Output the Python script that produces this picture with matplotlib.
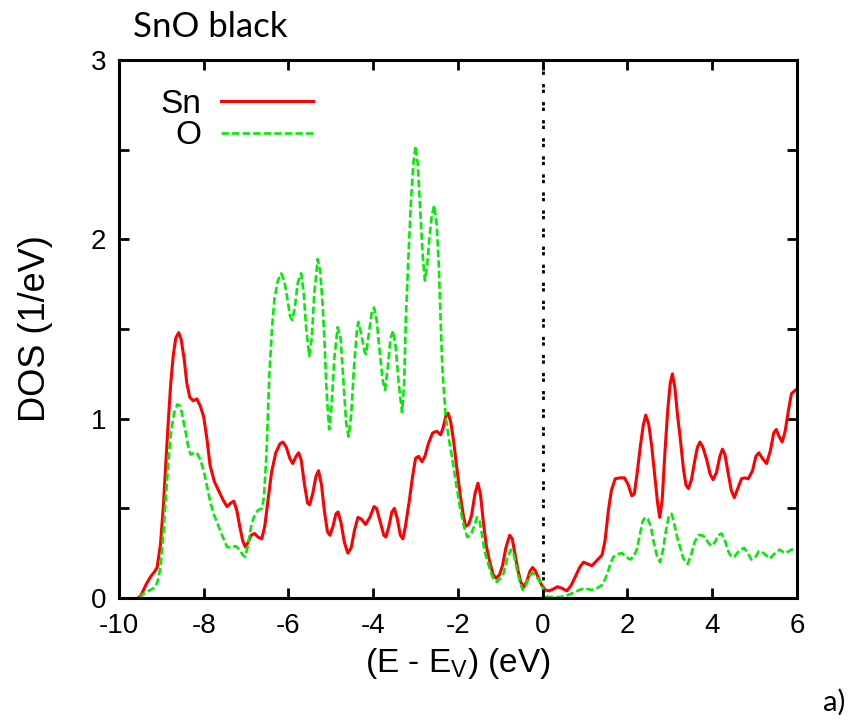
import numpy as np
import matplotlib
matplotlib.use("Agg")
import matplotlib.pyplot as plt

# DOS (energy in eV, DOS in 1/eV)
sn_e = [-9.55, -9.49, -9.35, -9.25, -9.15, -9.10, -9.02, -8.95, -8.90, -8.84, -8.78, -8.72,
        -8.66, -8.59, -8.53, -8.46, -8.40, -8.33, -8.25, -8.16, -8.08, -8.00, -7.92, -7.85,
        -7.75, -7.65, -7.55, -7.45, -7.36, -7.29, -7.22, -7.15, -7.08, -7.02, -6.95, -6.88,
        -6.80, -6.72, -6.63, -6.56, -6.48, -6.40, -6.30, -6.20, -6.13, -6.05, -5.97, -5.90,
        -5.82, -5.76, -5.70, -5.62, -5.55, -5.50, -5.43, -5.35, -5.29, -5.22, -5.15, -5.08,
        -5.02, -4.95, -4.88, -4.83, -4.76, -4.68, -4.60, -4.52, -4.44, -4.36, -4.28, -4.18,
        -4.08, -3.98, -3.92, -3.84, -3.75, -3.70, -3.63, -3.56, -3.50, -3.43, -3.36, -3.30,
        -3.24, -3.15, -3.07, -3.00, -2.93, -2.85, -2.78, -2.70, -2.60, -2.50, -2.41, -2.35,
        -2.28, -2.23, -2.17, -2.10, -2.03, -1.95, -1.88, -1.82, -1.75, -1.68, -1.60, -1.53,
        -1.47, -1.40, -1.33, -1.25, -1.17, -1.10, -1.02, -0.95, -0.87, -0.78, -0.72, -0.65,
        -0.58, -0.52, -0.45, -0.38, -0.30, -0.24, -0.17, -0.10, -0.02, 0.06, 0.15, 0.25,
        0.35, 0.45, 0.57, 0.67, 0.77, 0.87, 0.96, 1.06, 1.16, 1.28, 1.40, 1.47,
        1.55, 1.62, 1.71, 1.82, 1.93, 2.02, 2.10, 2.16, 2.23, 2.30, 2.37, 2.43,
        2.50, 2.57, 2.64, 2.71, 2.76, 2.82, 2.88, 2.95, 3.01, 3.06, 3.12, 3.18,
        3.24, 3.32, 3.38, 3.44, 3.51, 3.59, 3.65, 3.71, 3.78, 3.87, 3.95, 4.02,
        4.10, 4.18, 4.24, 4.30, 4.38, 4.45, 4.52, 4.60, 4.69, 4.76, 4.85, 4.95,
        5.03, 5.10, 5.18, 5.28, 5.37, 5.45, 5.51, 5.58, 5.65, 5.72, 5.80, 5.87, 5.97]
sn_dos = [0.00, 0.01, 0.08, 0.12, 0.15, 0.17, 0.30, 0.52, 0.73, 0.97, 1.19, 1.35,
          1.45, 1.48, 1.44, 1.33, 1.20, 1.12, 1.10, 1.11, 1.07, 1.01, 0.88, 0.74,
          0.65, 0.60, 0.55, 0.51, 0.53, 0.54, 0.49, 0.40, 0.32, 0.285, 0.31, 0.35,
          0.36, 0.34, 0.33, 0.40, 0.55, 0.70, 0.81, 0.86, 0.87, 0.84, 0.78, 0.75,
          0.79, 0.81, 0.77, 0.63, 0.53, 0.52, 0.58, 0.68, 0.71, 0.63, 0.48, 0.37,
          0.35, 0.40, 0.47, 0.48, 0.42, 0.31, 0.25, 0.28, 0.38, 0.45, 0.44, 0.41,
          0.45, 0.51, 0.50, 0.43, 0.35, 0.34, 0.40, 0.48, 0.50, 0.44, 0.35, 0.33,
          0.40, 0.54, 0.68, 0.78, 0.79, 0.76, 0.79, 0.86, 0.92, 0.93, 0.91, 0.95,
          1.02, 1.03, 0.98, 0.87, 0.73, 0.58, 0.47, 0.40, 0.41, 0.46, 0.58, 0.64,
          0.58, 0.42, 0.29, 0.20, 0.13, 0.11, 0.13, 0.18, 0.28, 0.35, 0.33, 0.24,
          0.15, 0.09, 0.06, 0.09, 0.15, 0.17, 0.15, 0.11, 0.07, 0.045, 0.04, 0.05,
          0.063, 0.055, 0.04, 0.07, 0.12, 0.17, 0.20, 0.19, 0.18, 0.21, 0.24, 0.32,
          0.49, 0.60, 0.665, 0.67, 0.67, 0.63, 0.57, 0.58, 0.70, 0.84, 0.96, 1.02,
          0.97, 0.85, 0.69, 0.53, 0.45, 0.55, 0.80, 1.05, 1.20, 1.25, 1.17, 1.02,
          0.90, 0.72, 0.63, 0.61, 0.66, 0.77, 0.84, 0.87, 0.84, 0.77, 0.69, 0.66,
          0.70, 0.79, 0.83, 0.80, 0.69, 0.60, 0.56, 0.61, 0.665, 0.67, 0.665, 0.71,
          0.79, 0.81, 0.78, 0.75, 0.82, 0.92, 0.94, 0.90, 0.87, 0.93, 1.05, 1.14, 1.16]

o_e = [-9.50, -9.45, -9.30, -9.14, -9.08, -9.02, -8.96, -8.90, -8.84, -8.78, -8.70, -8.62,
       -8.55, -8.49, -8.43, -8.37, -8.31, -8.22, -8.16, -8.08, -8.00, -7.92, -7.84, -7.75,
       -7.65, -7.55, -7.45, -7.35, -7.25, -7.15, -7.08, -7.02, -6.95, -6.88, -6.82, -6.72,
       -6.63, -6.58, -6.52, -6.45, -6.39, -6.33, -6.25, -6.17, -6.10, -6.02, -5.96, -5.91,
       -5.85, -5.78, -5.70, -5.64, -5.58, -5.51, -5.45, -5.39, -5.31, -5.25, -5.19, -5.15,
       -5.10, -5.04, -4.98, -4.92, -4.84, -4.77, -4.70, -4.64, -4.58, -4.52, -4.45, -4.38,
       -4.35, -4.28, -4.20, -4.17, -4.10, -4.03, -3.98, -3.92, -3.85, -3.78, -3.72, -3.66,
       -3.59, -3.53, -3.47, -3.40, -3.32, -3.27, -3.23, -3.17, -3.11, -3.05, -3.00, -2.95,
       -2.88, -2.83, -2.78, -2.73, -2.68, -2.62, -2.56, -2.50, -2.45, -2.41, -2.37, -2.29,
       -2.21, -2.13, -2.04, -1.94, -1.86, -1.78, -1.70, -1.62, -1.55, -1.50, -1.43, -1.37,
       -1.31, -1.22, -1.15, -1.08, -1.00, -0.92, -0.84, -0.75, -0.68, -0.60, -0.53, -0.47,
       -0.40, -0.32, -0.25, -0.18, -0.09, 0.02, 0.10, 0.25, 0.38, 0.55, 0.69, 0.82,
       0.96, 1.06, 1.16, 1.28, 1.40, 1.48, 1.55, 1.61, 1.67, 1.77, 1.87, 1.97,
       2.06, 2.14, 2.22, 2.30, 2.36, 2.42, 2.48, 2.55, 2.62, 2.70, 2.77, 2.84,
       2.91, 2.97, 3.04, 3.10, 3.17, 3.24, 3.32, 3.42, 3.50, 3.58, 3.67, 3.75,
       3.83, 3.90, 3.98, 4.06, 4.14, 4.22, 4.30, 4.38, 4.45, 4.52, 4.62, 4.75,
       4.84, 4.92, 5.02, 5.10, 5.16, 5.26, 5.36, 5.46, 5.59, 5.71, 5.80, 5.87, 5.97]
o_dos = [0.00, 0.02, 0.04, 0.06, 0.10, 0.17, 0.33, 0.54, 0.74, 0.91, 1.03, 1.08,
         1.07, 1.00, 0.93, 0.85, 0.80, 0.81, 0.81, 0.77, 0.71, 0.62, 0.53, 0.46,
         0.40, 0.34, 0.285, 0.28, 0.29, 0.27, 0.24, 0.23, 0.30, 0.40, 0.45, 0.49,
         0.50, 0.56, 0.80, 1.25, 1.50, 1.67, 1.77, 1.81, 1.77, 1.66, 1.57, 1.55,
         1.62, 1.76, 1.81, 1.70, 1.50, 1.35, 1.45, 1.70, 1.89, 1.82, 1.62, 1.43,
         1.15, 0.94, 1.08, 1.33, 1.51, 1.45, 1.20, 0.98, 0.90, 1.02, 1.30, 1.50,
         1.54, 1.47, 1.37, 1.36, 1.48, 1.60, 1.62, 1.55, 1.38, 1.22, 1.16, 1.28,
         1.45, 1.49, 1.40, 1.20, 1.035, 1.20, 1.56, 1.90, 2.21, 2.43, 2.52, 2.42,
         2.12, 1.90, 1.77, 1.85, 1.99, 2.13, 2.19, 2.08, 1.84, 1.55, 1.285, 1.01,
         0.88, 0.77, 0.63, 0.49, 0.40, 0.34, 0.35, 0.40, 0.45, 0.44, 0.35, 0.26,
         0.21, 0.14, 0.10, 0.09, 0.11, 0.14, 0.22, 0.27, 0.24, 0.15, 0.08, 0.045,
         0.07, 0.12, 0.14, 0.13, 0.10, 0.045, 0.007, 0.005, 0.005, 0.012, 0.026, 0.04,
         0.054, 0.05, 0.045, 0.055, 0.072, 0.11, 0.155, 0.20, 0.23, 0.245, 0.25, 0.23,
         0.215, 0.23, 0.27, 0.36, 0.43, 0.45, 0.44, 0.40, 0.31, 0.23, 0.20, 0.27,
         0.38, 0.45, 0.47, 0.42, 0.34, 0.285, 0.22, 0.19, 0.24, 0.31, 0.35, 0.35,
         0.34, 0.31, 0.29, 0.31, 0.35, 0.36, 0.32, 0.26, 0.23, 0.23, 0.26, 0.28,
         0.25, 0.215, 0.23, 0.26, 0.26, 0.24, 0.22, 0.245, 0.27, 0.25, 0.26, 0.27, 0.27]

x_ticks = [-10, -8, -6, -4, -2, 0, 2, 4, 6]
y_ticks = [0, 0.5, 1, 1.5, 2, 2.5, 3]
y_ticklabels = ['0', '', '1', '', '2', '', '3']

plt.rcParams['font.family'] = ['Liberation Sans', 'DejaVu Sans']
plt.rcParams['mathtext.fontset'] = 'custom'
plt.rcParams['mathtext.rm'] = 'Liberation Sans'

fig = plt.figure(figsize=(8.62, 7.2), dpi=100)
ax = fig.add_axes([0.138, 0.1694, 0.7866, 0.7473])

ax.plot(sn_e, sn_dos, color='#ff0000', lw=2.2, label='Sn', solid_joinstyle='round')
ax.plot(o_e, o_dos, color='#00ee00', lw=1.9, ls=(0, (2.8, 1.2)), label='O')
ax.axvline(0, color='black', lw=2.0, ls=(0, (1.2, 0.8, 1.2, 3.3)))

ax.set_xlim(-10, 6)
ax.set_ylim(0, 3)
ax.set_xticks(x_ticks)
ax.set_xticklabels([str(t) for t in x_ticks])
ax.set_yticks(y_ticks)
ax.set_yticklabels(y_ticklabels)
ax.tick_params(direction='in', length=7, width=2, labelsize=20,
               top=True, right=True, color='black')
ax.tick_params(axis='x', pad=11)
ax.tick_params(axis='y', pad=9)
for s in ax.spines.values():
    s.set_linewidth(2.2)

ax.set_xlabel(r'(E - E$_{\rm V}$) (eV)', fontsize=24, labelpad=5)
ax.set_ylabel('DOS (1/eV)', fontsize=26, labelpad=27)

leg = ax.legend(loc='upper left', bbox_to_anchor=(0.027, 0.99), frameon=False,
                markerfirst=False, fontsize=24, handlelength=2.75,
                labelspacing=0.02, handletextpad=0.6, borderaxespad=0.3)
for t in leg.get_texts():
    t.set_ha('right')

fig.text(0.154, 0.963, 'SnO black', fontsize=25, family='Lato', va='center', ha='left')
fig.text(0.955, 0.024, 'a)', fontsize=21, family='Lato', va='center', ha='left')

fig.savefig('out.png', dpi=100)
